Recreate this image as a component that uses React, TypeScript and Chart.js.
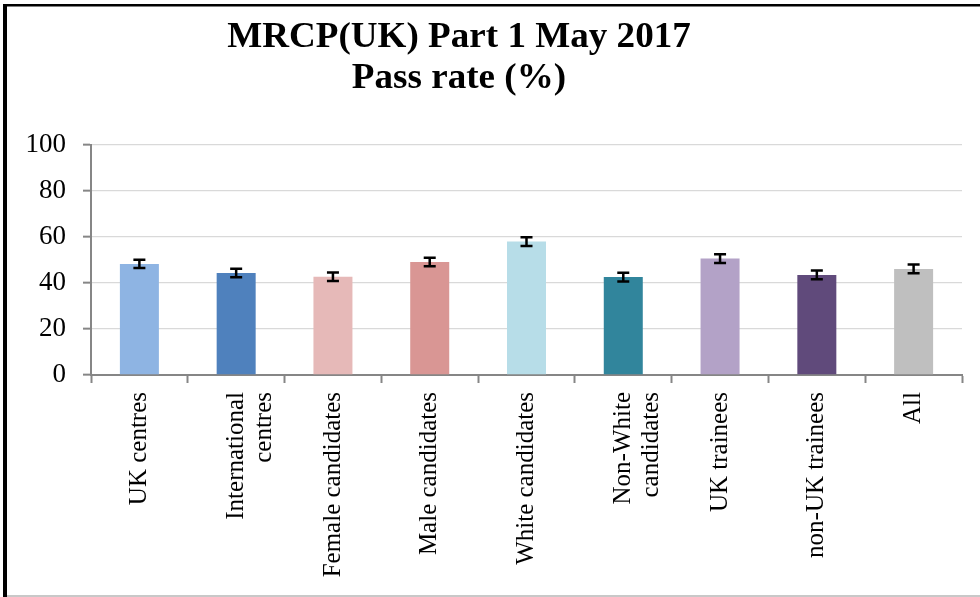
import React, { useEffect, useRef } from "react";
import { Chart, registerables } from "chart.js";

Chart.register(...registerables);

const categories: (string | string[])[] = [
  "UK centres",
  ["International", "centres"],
  "Female candidates",
  "Male candidates",
  "White candidates",
  ["Non-White", "candidates"],
  "UK trainees",
  "non-UK trainees",
  "All",
];
const passRates = [48.3, 44.35, 42.75, 49.15, 58.0, 42.6, 50.6, 43.5, 46.1];
const errors = [1.8, 1.85, 1.85, 1.85, 1.9, 1.9, 1.9, 1.9, 1.9];
const barColors = [
  "#8EB4E3",
  "#4F81BD",
  "#E6B9B8",
  "#D99694",
  "#B7DDE8",
  "#31859C",
  "#B3A2C7",
  "#604A7B",
  "#BFBFBF",
];
const yTicks = [0, 20, 40, 60, 80, 100];
const titleLines = ["MRCP(UK) Part 1 May 2017", "Pass rate (%)"];

const errorBarPlugin = {
  id: "errorBars",
  afterDatasetsDraw(chart: any) {
    const ctx = chart.ctx;
    const meta = chart.getDatasetMeta(0);
    const y = chart.scales.y;
    ctx.save();
    ctx.strokeStyle = "#000";
    ctx.lineWidth = 2.5;
    meta.data.forEach((bar: any, i: number) => {
      const x = bar.x;
      const top = y.getPixelForValue(passRates[i] + errors[i]);
      const bot = y.getPixelForValue(passRates[i] - errors[i]);
      const hw = 6;
      ctx.beginPath();
      ctx.moveTo(x, top);
      ctx.lineTo(x, bot);
      ctx.moveTo(x - hw, top);
      ctx.lineTo(x + hw, top);
      ctx.moveTo(x - hw, bot);
      ctx.lineTo(x + hw, bot);
      ctx.stroke();
    });
    ctx.restore();
  },
};

const frameTitlePlugin = {
  id: "frameTitle",
  afterDraw(chart: any) {
    const ctx = chart.ctx;
    ctx.save();
    ctx.fillStyle = "#000";
    ctx.fillRect(3, 4, 4, 593);
    ctx.fillRect(3, 4, 977, 2.5);
    ctx.fillStyle = "#C8C8C8";
    ctx.fillRect(7, 595, 973, 2);
    ctx.fillStyle = "#000";
    ctx.font = "bold 35px 'Liberation Serif', serif";
    ctx.textAlign = "center";
    ctx.textBaseline = "alphabetic";
    const sx = 1.06;
    ctx.translate(459, 0);
    ctx.scale(sx, 1);
    ctx.fillText(titleLines[0], 0, 47);
    ctx.fillText(titleLines[1], 0, 88);
    ctx.restore();
  },
};

export default function App() {
  const ref = useRef<HTMLCanvasElement>(null);
  useEffect(() => {
    document.body.style.margin = "0";
    const chart = new Chart(ref.current!, {
      type: "bar",
      data: {
        labels: categories,
        datasets: [
          {
            data: passRates,
            backgroundColor: barColors,
            borderWidth: 0,
            barPercentage: 0.403,
            categoryPercentage: 1,
          },
        ],
      },
      options: {
        animation: false,
        responsive: false,
        maintainAspectRatio: false,
        layout: { padding: { top: 145, right: 18, left: 0, bottom: 0 } },
        plugins: {
          legend: { display: false },
          title: { display: false },
          tooltip: { enabled: false },
        },
        scales: {
          x: {
            afterFit: (s: any) => {
              s.height = 222;
            },
            grid: {
              offset: true,
              drawOnChartArea: false,
              drawTicks: true,
              tickLength: 8,
              tickColor: "#868686",
              tickWidth: 2,
            },
            border: { color: "#868686", width: 2 },
            ticks: {
              minRotation: 90,
              maxRotation: 90,
              autoSkip: false,
              padding: 9,
              color: "#000",
              font: { family: "'Liberation Serif', serif", size: 25, lineHeight: 1.12 },
            },
          },
          y: {
            min: 0,
            max: 100,
            afterFit: (s: any) => {
              s.width = 91;
            },
            afterBuildTicks: (s: any) => {
              s.ticks = yTicks.map((v) => ({ value: v }));
            },
            grid: {
              color: "#D9D9D9",
              lineWidth: 1.3,
              tickLength: 8,
              tickColor: "#868686",
              tickWidth: 2,
            },
            border: { color: "#868686", width: 2 },
            ticks: {
              padding: 17,
              color: "#000",
              font: { family: "'Liberation Serif', serif", size: 27 },
            },
          },
        },
      },
      plugins: [errorBarPlugin, frameTitlePlugin],
    });
    return () => chart.destroy();
  }, []);
  return <canvas ref={ref} width={980} height={597} style={{ display: "block" }} />;
}
